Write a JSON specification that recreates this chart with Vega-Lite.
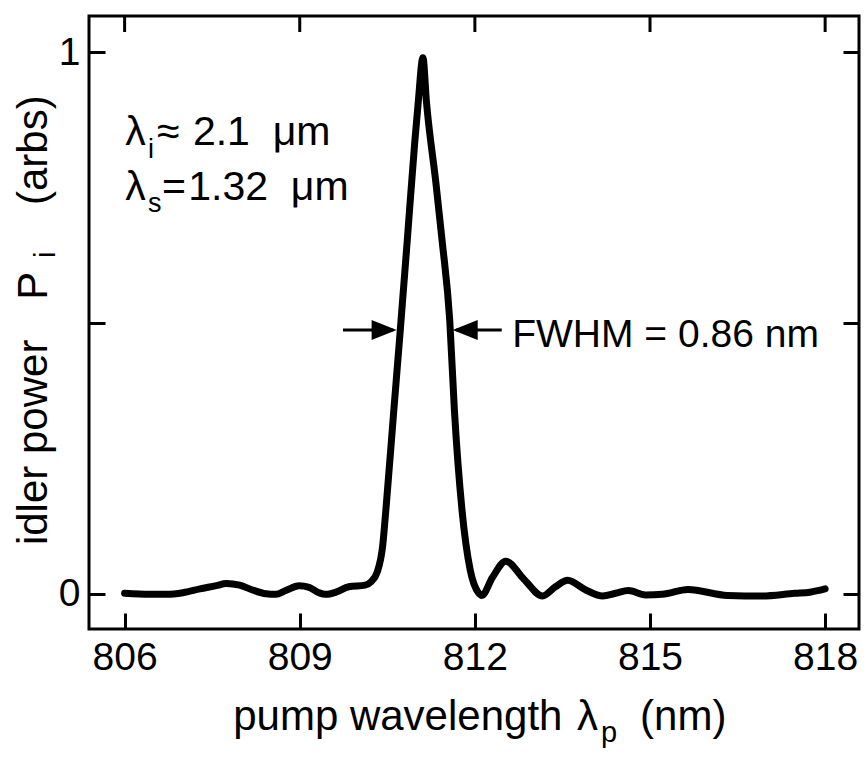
{
  "$schema": "https://vega.github.io/schema/vega-lite/v6.json",
  "width": 770,
  "height": 613,
  "autosize": {"type": "none"},
  "padding": {"left": 89, "top": 16, "right": 9, "bottom": 128},
  "background": "white",
  "config": {
    "view": {"stroke": "black", "strokeWidth": 3},
    "axis": {
      "domain": false,
      "grid": false,
      "ticks": true,
      "tickColor": "black",
      "tickWidth": 3,
      "tickSize": 16,
      "offset": -16,
      "zindex": 1,
      "labelFont": "Liberation Sans",
      "labelFontSize": 39,
      "labelColor": "black"
    },
    "text": {"font": "Liberation Sans", "color": "black"}
  },
  "datasets": {
    "curve": [
      {"x": 806.00, "y": 0.001},
      {"x": 806.43, "y": -0.001},
      {"x": 806.72, "y": -0.001},
      {"x": 807.00, "y": 0.002},
      {"x": 807.29, "y": 0.009},
      {"x": 807.57, "y": 0.015},
      {"x": 807.74, "y": 0.019},
      {"x": 807.97, "y": 0.016},
      {"x": 808.19, "y": 0.007},
      {"x": 808.42, "y": 0.000},
      {"x": 808.59, "y": -0.001},
      {"x": 808.76, "y": 0.006},
      {"x": 808.99, "y": 0.015},
      {"x": 809.16, "y": 0.012},
      {"x": 809.33, "y": 0.002},
      {"x": 809.44, "y": -0.001},
      {"x": 809.62, "y": 0.003},
      {"x": 809.84, "y": 0.013},
      {"x": 810.12, "y": 0.016},
      {"x": 810.22, "y": 0.022},
      {"x": 810.33, "y": 0.041},
      {"x": 810.42, "y": 0.088},
      {"x": 810.48, "y": 0.161},
      {"x": 810.61, "y": 0.337},
      {"x": 810.72, "y": 0.484},
      {"x": 810.84, "y": 0.650},
      {"x": 810.97, "y": 0.834},
      {"x": 811.03, "y": 0.908},
      {"x": 811.11, "y": 0.990},
      {"x": 811.17, "y": 0.909},
      {"x": 811.33, "y": 0.761},
      {"x": 811.44, "y": 0.651},
      {"x": 811.57, "y": 0.504},
      {"x": 811.65, "y": 0.338},
      {"x": 811.78, "y": 0.154},
      {"x": 811.92, "y": 0.044},
      {"x": 812.06, "y": 0.002},
      {"x": 812.12, "y": -0.003},
      {"x": 812.30, "y": 0.030},
      {"x": 812.53, "y": 0.060},
      {"x": 812.84, "y": 0.027},
      {"x": 813.16, "y": -0.004},
      {"x": 813.38, "y": 0.013},
      {"x": 813.59, "y": 0.025},
      {"x": 813.90, "y": 0.007},
      {"x": 814.19, "y": -0.004},
      {"x": 814.41, "y": 0.001},
      {"x": 814.63, "y": 0.006},
      {"x": 814.92, "y": -0.002},
      {"x": 815.21, "y": -0.001},
      {"x": 815.65, "y": 0.008},
      {"x": 816.33, "y": -0.003},
      {"x": 816.91, "y": -0.004},
      {"x": 817.48, "y": 0.001},
      {"x": 817.74, "y": 0.003},
      {"x": 818.00, "y": 0.009}
    ],
    "xticks": [
      {"v": 806, "edge": 1.067}, {"v": 809, "edge": 1.067}, {"v": 812, "edge": 1.067}, {"v": 815, "edge": 1.067}, {"v": 818, "edge": 1.067}
    ],
    "noteText": [
      {"x": 806.01, "y": 0.829, "t": "λ"},
      {"x": 806.555, "y": 0.829, "t": "≈"},
      {"x": 807.17, "y": 0.829, "t": "2.1\u00a0 μm"},
      {"x": 806.01, "y": 0.727, "t": "λ"},
      {"x": 806.64, "y": 0.727, "t": "="},
      {"x": 807.09, "y": 0.727, "t": "1.32\u00a0 μm"}
    ],
    "bigText": [
      {"x": 812.64, "y": 0.456, "t": "FWHM = 0.86 nm"}
    ],
    "subText": [
      {"x": 806.40, "y": 0.805, "t": "i"},
      {"x": 806.40, "y": 0.705, "t": "s"}
    ],
    "titleText": [
      {"x": 807.86, "y": -0.252, "t": "pump wavelength"},
      {"x": 813.75, "y": -0.252, "t": "λ"},
      {"x": 814.83, "y": -0.252, "t": "(nm)"}
    ],
    "titleSub": [
      {"x": 814.16, "y": -0.274, "t": "p"}
    ],
    "rotBig": [
      {"x": 804.67, "y": 0.090, "t": "idler power"},
      {"x": 804.67, "y": 0.543, "t": "P"},
      {"x": 804.67, "y": 0.718, "t": "(arbs)"}
    ],
    "rotSub": [
      {"x": 804.81, "y": 0.620, "t": "i"}
    ],
    "shafts": [
      {"x": 809.74, "x2": 810.60, "y": 0.487},
      {"x": 811.68, "x2": 812.46, "y": 0.487}
    ],
    "headRight": [{"x": 810.66, "y": 0.487}],
    "headLeft": [{"x": 811.62, "y": 0.487}]
  },
  "layer": [
    {
      "data": {"name": "curve"},
      "mark": {"type": "line", "color": "black", "strokeWidth": 7, "interpolate": "monotone", "strokeCap": "round", "strokeJoin": "round"},
      "encoding": {
        "x": {"field": "x", "type": "quantitative", "scale": {"domain": [805.39, 818.58], "nice": false, "zero": false},
              "axis": {"orient": "bottom", "values": [806, 809, 812, 815, 818], "labelPadding": 9, "title": null}},
        "y": {"field": "y", "type": "quantitative", "scale": {"domain": [-0.065, 1.067], "nice": false, "zero": false},
              "axis": {"orient": "left", "values": [0, 0.5, 1], "labelExpr": "datum.value == 0.5 ? '' : format(datum.value, 'd')", "labelPadding": 9, "title": null}}
      }
    },
    {
      "data": {"name": "curve"},
      "mark": {"type": "point", "opacity": 0},
      "encoding": {
        "x": {"field": "x", "type": "quantitative", "axis": null},
        "y": {"field": "y", "type": "quantitative",
              "axis": {"orient": "right", "values": [0, 0.5, 1], "labels": false, "title": null}}
      }
    },
    {
      "data": {"name": "xticks"},
      "mark": {"type": "tick", "orient": "vertical", "color": "black", "size": 32, "thickness": 3, "opacity": 1, "clip": true},
      "encoding": {
        "x": {"field": "v", "type": "quantitative", "axis": null},
        "y": {"field": "edge", "type": "quantitative", "axis": null}
      }
    },
    {
      "data": {"name": "shafts"},
      "mark": {"type": "rule", "color": "black", "strokeWidth": 3},
      "encoding": {
        "x": {"field": "x", "type": "quantitative", "axis": null},
        "x2": {"field": "x2"},
        "y": {"field": "y", "type": "quantitative", "axis": null}
      }
    },
    {
      "data": {"name": "headRight"},
      "mark": {"type": "point", "shape": "M0,0L-2,-0.8L-2,0.8Z", "size": 625, "filled": true, "color": "black", "opacity": 1, "strokeWidth": 0},
      "encoding": {
        "x": {"field": "x", "type": "quantitative", "axis": null},
        "y": {"field": "y", "type": "quantitative", "axis": null}
      }
    },
    {
      "data": {"name": "headLeft"},
      "mark": {"type": "point", "shape": "M0,0L2,-0.8L2,0.8Z", "size": 625, "filled": true, "color": "black", "opacity": 1, "strokeWidth": 0},
      "encoding": {
        "x": {"field": "x", "type": "quantitative", "axis": null},
        "y": {"field": "y", "type": "quantitative", "axis": null}
      }
    },
    {
      "data": {"name": "noteText"},
      "mark": {"type": "text", "fontSize": 41, "align": "left", "baseline": "alphabetic"},
      "encoding": {
        "x": {"field": "x", "type": "quantitative", "axis": null},
        "y": {"field": "y", "type": "quantitative", "axis": null},
        "text": {"field": "t"}
      }
    },
    {
      "data": {"name": "bigText"},
      "mark": {"type": "text", "fontSize": 39, "align": "left", "baseline": "alphabetic"},
      "encoding": {
        "x": {"field": "x", "type": "quantitative", "axis": null},
        "y": {"field": "y", "type": "quantitative", "axis": null},
        "text": {"field": "t"}
      }
    },
    {
      "data": {"name": "subText"},
      "mark": {"type": "text", "fontSize": 27, "align": "left", "baseline": "alphabetic"},
      "encoding": {
        "x": {"field": "x", "type": "quantitative", "axis": null},
        "y": {"field": "y", "type": "quantitative", "axis": null},
        "text": {"field": "t"}
      }
    },
    {
      "data": {"name": "titleText"},
      "mark": {"type": "text", "fontSize": 42, "align": "left", "baseline": "alphabetic"},
      "encoding": {
        "x": {"field": "x", "type": "quantitative", "axis": null},
        "y": {"field": "y", "type": "quantitative", "axis": null},
        "text": {"field": "t"}
      }
    },
    {
      "data": {"name": "titleSub"},
      "mark": {"type": "text", "fontSize": 29, "align": "left", "baseline": "alphabetic"},
      "encoding": {
        "x": {"field": "x", "type": "quantitative", "axis": null},
        "y": {"field": "y", "type": "quantitative", "axis": null},
        "text": {"field": "t"}
      }
    },
    {
      "data": {"name": "rotBig"},
      "mark": {"type": "text", "fontSize": 42, "align": "left", "baseline": "alphabetic", "angle": 270},
      "encoding": {
        "x": {"field": "x", "type": "quantitative", "axis": null},
        "y": {"field": "y", "type": "quantitative", "axis": null},
        "text": {"field": "t"}
      }
    },
    {
      "data": {"name": "rotSub"},
      "mark": {"type": "text", "fontSize": 29, "align": "left", "baseline": "alphabetic", "angle": 270},
      "encoding": {
        "x": {"field": "x", "type": "quantitative", "axis": null},
        "y": {"field": "y", "type": "quantitative", "axis": null},
        "text": {"field": "t"}
      }
    }
  ],
  "resolve": {"axis": {"x": "independent", "y": "independent"}}
}
